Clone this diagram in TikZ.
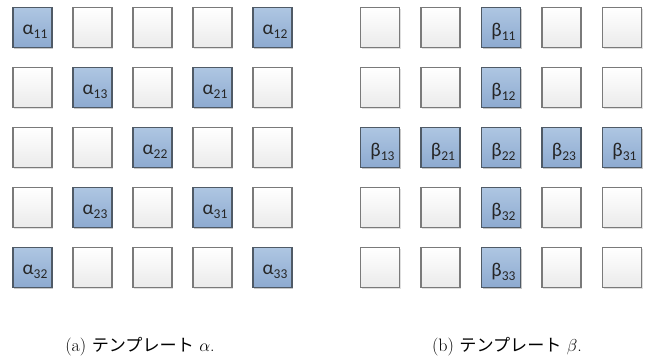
\documentclass[tikz,border=0pt]{standalone}
\usepackage{fontspec}
\newfontfamily\carl{Carlito}
\newfontfamily\jp{Noto Sans CJK JP}[Scale=0.95]
\usetikzlibrary{shadows}
\definecolor{bluetop}{HTML}{AEC6E2}
\definecolor{bluebot}{HTML}{8DAAD0}
\definecolor{blueedge}{HTML}{4F5A66}
\definecolor{grayedge}{HTML}{7A7A7A}
\tikzset{
  cell/.style={minimum width=39pt, minimum height=40pt, inner sep=0pt, line width=1.1pt,
    drop shadow={shadow xshift=1.2pt, shadow yshift=-1.2pt, opacity=0.25}},
  wcell/.style={cell, draw=grayedge, top color=white, bottom color=black!8},
  bcell/.style={cell, draw=blueedge, top color=bluetop, bottom color=bluebot},
  lab/.style={font=\carl, text=black!85, inner sep=0pt},
  captext/.style={font=\fontsize{18}{21}\selectfont, inner sep=0pt}
}
\newcommand{\lbl}[2]{{\fontsize{19.5}{19.5}\selectfont #1}{\fontsize{13.5}{13.5}\selectfont\raisebox{-3.5pt}{#2}}}
\begin{document}
\begin{tikzpicture}[x=1pt,y=1pt]
\useasboundingbox (0,0) rectangle (669,-363);
% left grid
\foreach \i in {0,...,4}{
  \foreach \j in {0,...,4}{
    \node[wcell] (a\i\j) at (32.5+60*\i, -27.5-60*\j) {};
  }
}
\foreach \i/\j/\s in {0/0/11, 4/0/12, 1/1/13, 3/1/21, 2/2/22, 1/3/23, 3/3/31, 0/4/32, 4/4/33}{
  \node[bcell] (A\i\j) at (32.5+60*\i, -27.5-60*\j) {};
  \node[lab] at ([xshift=2.5pt,yshift=-4.5pt]A\i\j.center) {\lbl{α}{\s}};
}
% right grid
\foreach \i in {0,...,4}{
  \foreach \j in {0,...,4}{
    \node[wcell] (b\i\j) at (380+60.5*\i, -27.5-60*\j) {};
  }
}
\foreach \i/\j/\s in {2/0/11, 2/1/12, 0/2/13, 1/2/21, 2/2/22, 3/2/23, 4/2/31, 2/3/32, 2/4/33}{
  \node[bcell] (B\i\j) at (380+60.5*\i, -27.5-60*\j) {};
  \node[lab] at ([xshift=2.5pt,yshift=-4.5pt]B\i\j.center) {\lbl{β}{\s}};
}
\node[captext] (capa) at (140,-347) {(a) {\jp テンプレート} $\alpha$.};
\node[captext] (capb) at (507,-347) {(b) {\jp テンプレート} $\beta$.};
\end{tikzpicture}
\end{document}
